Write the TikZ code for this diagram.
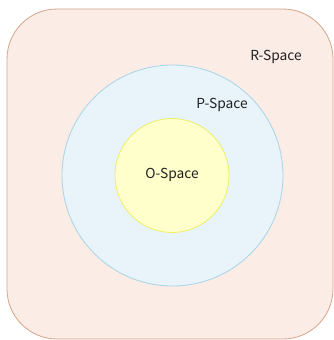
\documentclass[tikz,border=0pt]{standalone}
\usepackage{fontspec}
\setmainfont{Noto Sans CJK JP}
\definecolor{rfill}{HTML}{FBECE6}
\definecolor{rdraw}{HTML}{D5A48A}
\definecolor{pfill}{HTML}{E8F4FA}
\definecolor{pdraw}{HTML}{A8D4E8}
\definecolor{ofill}{HTML}{FFFFCC}
\definecolor{odraw}{HTML}{EEEE66}
\definecolor{txt}{HTML}{222222}
\tikzset{
  lbl/.style={font=\fontsize{13.8}{16}\selectfont, text=txt, inner sep=0pt},
  space/.style={line width=0.8pt}
}
\begin{document}
\begin{tikzpicture}[x=1pt,y=-1pt]
\useasboundingbox (0,0) rectangle (334,340);
\draw[space, fill=rfill, draw=rdraw, rounded corners=50pt] (7,9) rectangle (333,339);
\node[space, circle, fill=pfill, draw=pdraw, minimum size=221pt, inner sep=0pt] (p) at (172.5,175.5) {};
\node[space, circle, fill=ofill, draw=odraw, minimum size=114pt, inner sep=0pt] (o) at (172,175.5) {};
\node[lbl] (ol) at (172,175) {O-Space};
\node[lbl] (pl) at (222,105) {P-Space};
\node[lbl] (rl) at (276,57) {R-Space};
\end{tikzpicture}
\end{document}
